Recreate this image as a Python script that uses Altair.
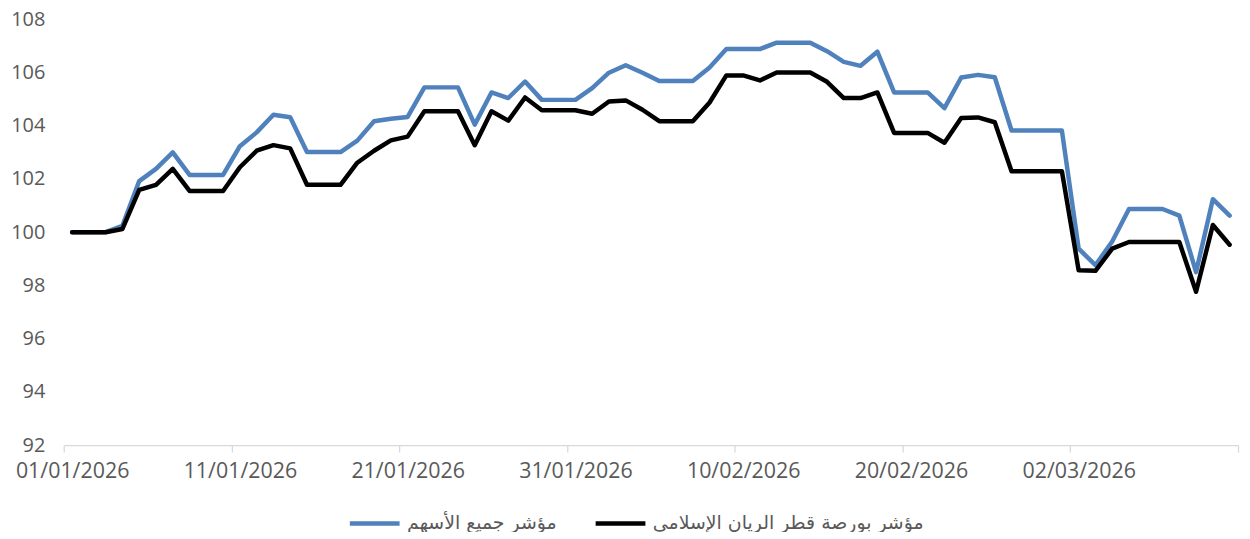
import altair as alt
import pandas as pd

# ---- data ----
dates = pd.date_range("2026-01-01", periods=70, freq="D")

all_shares = [
    100, 100, 100, 100.24, 101.92, 102.38, 103.0, 102.15, 102.15, 102.15,
    103.23, 103.75, 104.41, 104.32, 103.01, 103.01, 103.01, 103.44, 104.17, 104.26,
    104.33, 105.44, 105.44, 105.44, 104.04, 105.25, 105.04, 105.66, 104.97, 104.97,
    104.97, 105.41, 105.99, 106.27, 105.99, 105.68, 105.68, 105.68, 106.19, 106.88,
    106.88, 106.88, 107.12, 107.12, 107.12, 106.8, 106.4, 106.25, 106.78, 105.25,
    105.25, 105.25, 104.66, 105.81, 105.91, 105.82, 103.82, 103.82, 103.82, 103.82,
    99.38, 98.76, 99.65, 100.87, 100.87, 100.87, 100.62, 98.5, 101.24, 100.62,
]

rayan_islamic = [
    100, 100, 100, 100.12, 101.59, 101.78, 102.38, 101.55, 101.55, 101.55,
    102.44, 103.06, 103.27, 103.15, 101.78, 101.78, 101.78, 102.61, 103.06, 103.45,
    103.59, 104.54, 104.54, 104.54, 103.27, 104.54, 104.19, 105.06, 104.58, 104.58,
    104.58, 104.45, 104.91, 104.95, 104.6, 104.17, 104.17, 104.17, 104.87, 105.89,
    105.89, 105.70, 106.0, 106.0, 106.0, 105.65, 105.04, 105.04, 105.25, 103.73,
    103.73, 103.73, 103.36, 104.29, 104.31, 104.13, 102.29, 102.29, 102.29, 102.29,
    98.57, 98.55, 99.38, 99.63, 99.63, 99.63, 99.63, 97.76, 100.27, 99.53,
]

series_names = ["مؤشر جميع الأسهم", "مؤشر بورصة قطر الريان الإسلامي"]
series_colors = ["#4F81BD", "#000000"]
y_ticks = [92, 94, 96, 98, 100, 102, 104, 106, 108]
x_boundaries = [-0.5, 9.5, 19.5, 29.5, 39.5, 49.5, 59.5, 69.5]

day = [(d - dates[0]).days for d in dates]
df_a = pd.DataFrame({"day": day, "value": all_shares, "series": series_names[0]})
df_b = pd.DataFrame({"day": day, "value": rayan_islamic, "series": series_names[1]})

label_font = "Open Sans"
grey = "#595959"

color = alt.Color(
    "series:N",
    scale=alt.Scale(domain=series_names, range=series_colors),
    legend=alt.Legend(
        title=None,
        orient="none",
        legendX=285,
        legendY=479,
        direction="horizontal",
        symbolType="stroke",
        symbolStrokeWidth=4.5,
        symbolSize=2500,
        labelFontSize=19,
        labelFont="DejaVu Sans",
        labelColor=grey,
        labelLimit=0,
        columnPadding=29,
        labelOffset=5,
        padding=0,
    ),
)

x = alt.X(
    "day:Q",
    scale=alt.Scale(domain=[-0.5, 69.5], nice=False, zero=False),
    axis=alt.Axis(
        title=None,
        values=x_boundaries,
        labelExpr="datum.value > 69 ? '' : timeFormat(datetime(2026, 0, 1 + round(datum.value + 0.5)), '%d/%m/%Y')",
        labelOffset=8.43,
        labelFlush=False,
        labelOverlap=False,
        labelFont=label_font,
        labelFontSize=21.5,
        labelColor=grey,
        labelPadding=9,
        tickSize=7,
        tickColor="#d9d9d9",
        tickWidth=1.3,
        domainColor="#d9d9d9",
        domainWidth=1.3,
        grid=False,
    ),
)

y = alt.Y(
    "value:Q",
    scale=alt.Scale(domain=[92, 108], nice=False, zero=False),
    axis=alt.Axis(
        title=None,
        values=y_ticks,
        ticks=False,
        domain=False,
        grid=False,
        labelFont=label_font,
        labelFontSize=20,
        labelColor=grey,
        labelPadding=19,
    ),
)

line_kw = dict(strokeWidth=4.5, strokeJoin="round", strokeCap="round")
line_a = alt.Chart(df_a).mark_line(**line_kw).encode(x=x, y=y, color=color)
line_b = alt.Chart(df_b).mark_line(**line_kw).encode(x=x, y=y, color=color)

chart = (
    alt.layer(line_a, line_b)
    .properties(
        width=1180,
        height=428,
        autosize=alt.AutoSizeParams(type="none"),
        padding={"left": 56, "top": 10, "right": 4, "bottom": 86},
        background="white",
    )
    .configure_view(stroke=None)
)

chart.save("out.html", embed_options={"renderer": "svg", "actions": False})
